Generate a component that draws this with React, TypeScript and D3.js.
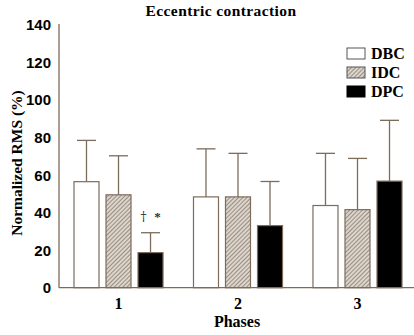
import React from "react";
import * as d3 from "d3";

const phases = ["1", "2", "3"];
const seriesNames = ["DBC", "IDC", "DPC"];
const means = [
  [56.5, 49.5, 18.7],
  [48.4, 48.4, 33.1],
  [43.8, 41.6, 56.8],
];
const upperErr = [
  [78.5, 70.3, 29.3],
  [74, 71.6, 56.6],
  [71.6, 68.9, 89.2],
];
const yTicks = [0, 20, 40, 60, 80, 100, 120, 140];

const W = 414;
const H = 335;
const axisColor = "#7d6b5c";
const serif = "'Liberation Serif', 'Times New Roman', Times, serif";
const sans = "'Liberation Sans', Arial, sans-serif";

export default function App() {
  const y = d3.scaleLinear().domain([0, 140]).range([287.7, 25]);
  const x0 = d3.scaleBand().domain(phases).range([59, 417]).paddingInner(0.255).paddingOuter(0.1255);
  const x1 = d3.scaleBand().domain(seriesNames).range([0, x0.bandwidth()]).paddingInner(0.219);
  const fills = ["#ffffff", "url(#hatch)", "#000000"];
  const capW = 19;
  const serifStyle = { fontFamily: serif, fontWeight: 700 } as React.CSSProperties;
  const annX = x0("1")! + x1("DPC")! + x1.bandwidth() / 2;

  return (
    <svg width={W} height={H} style={{ position: "absolute", left: 0, top: 0, background: "#fff" }}>
      <defs>
        <pattern id="hatch" width="3" height="3" patternUnits="userSpaceOnUse" patternTransform="rotate(45)">
          <rect width="3" height="3" fill="#dcd5cc" />
          <line x1="0" y1="0" x2="0" y2="3" stroke="#76675a" strokeWidth="1.3" />
        </pattern>
      </defs>
      <text x={221} y={16} textAnchor="middle" style={{ ...serifStyle, fontSize: 15.5, letterSpacing: 0.4 }}>
        Eccentric contraction
      </text>
      {phases.map((p, i) => (
        <g key={p} transform={`translate(${x0(p)},0)`}>
          {seriesNames.map((s, j) => {
            const bx = x1(s)!;
            const bw = x1.bandwidth();
            const cx = bx + bw / 2;
            return (
              <g key={s}>
                <line x1={cx} x2={cx} y1={y(means[i][j])} y2={y(upperErr[i][j])} stroke={axisColor} strokeWidth={1.3} />
                <line x1={cx - capW / 2} x2={cx + capW / 2} y1={y(upperErr[i][j])} y2={y(upperErr[i][j])} stroke={axisColor} strokeWidth={1.3} />
                <rect x={bx} y={y(means[i][j])} width={bw} height={y(0) - y(means[i][j])} fill={fills[j]} stroke={axisColor} strokeWidth={1.2} />
              </g>
            );
          })}
        </g>
      ))}
      <text x={annX - 7} y={221} textAnchor="middle" fill="#333" style={{ fontFamily: "'DejaVu Serif', serif", fontSize: 12 }}>
        †
      </text>
      <text x={annX + 7} y={221} textAnchor="middle" fill="#333" style={{ fontFamily: serif, fontWeight: 700, fontSize: 13 }}>
        *
      </text>
      <line x1={59} x2={59} y1={y(140) - 1} y2={y(0)} stroke={axisColor} strokeWidth={1.3} />
      <line x1={59} x2={414} y1={y(0)} y2={y(0)} stroke={axisColor} strokeWidth={1.3} />
      {yTicks.map((t) => (
        <text key={t} x={51} y={y(t)} dy="0.36em" textAnchor="end" style={{ fontFamily: sans, fontWeight: 700, fontSize: 15 }}>
          {t}
        </text>
      ))}
      {phases.map((p) => (
        <text key={p} x={x0(p)! + x0.bandwidth() / 2} y={309} textAnchor="middle" style={{ ...serifStyle, fontSize: 16 }}>
          {p}
        </text>
      ))}
      <text x={237} y={327} textAnchor="middle" style={{ ...serifStyle, fontSize: 16 }}>
        Phases
      </text>
      <text transform="translate(22,163) rotate(-90)" textAnchor="middle" style={{ ...serifStyle, fontSize: 15.5 }}>
        Normalized RMS (%)
      </text>
      {seriesNames.map((s, j) => (
        <g key={s} transform={`translate(347,${48 + j * 19})`}>
          <rect x={0} y={0} width={18} height={11} fill={fills[j]} stroke={j === 2 ? "#000" : "#555"} strokeWidth={1} />
          <text x={24} y={11} style={{ ...serifStyle, fontSize: 16 }}>
            {s}
          </text>
        </g>
      ))}
    </svg>
  );
}
